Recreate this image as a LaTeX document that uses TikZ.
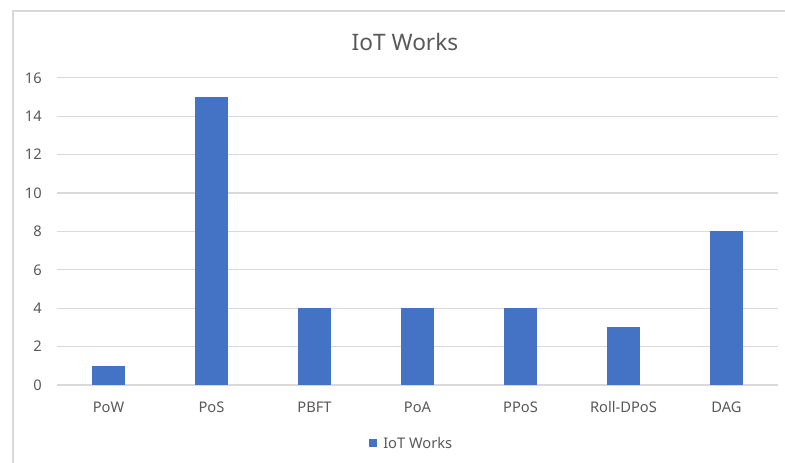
\documentclass[tikz,border=0pt]{standalone}
\usepackage{fontspec}
\setmainfont{Noto Sans}
\definecolor{bar}{HTML}{4472C4}
\definecolor{grid}{HTML}{D9D9D9}
\definecolor{txt}{HTML}{595959}
\begin{document}
\begin{tikzpicture}[x=0.75pt,y=-0.75pt,
  gridline/.style={draw=grid,line width=1pt},
  barfill/.style={fill=bar},
  ticklbl/.style={text=txt,font=\fontsize{11}{13}\selectfont,anchor=east,inner sep=0pt},
  catlbl/.style={text=txt,font=\fontsize{11}{13}\selectfont,anchor=center,inner sep=0pt},
  titlelbl/.style={text=txt,font=\fontsize{17}{20}\selectfont,anchor=center,inner sep=0pt}]
\useasboundingbox[fill=white] (0,0) rectangle (785,463);
% chart border (left and top visible)
\draw[grid,line width=1pt] (13,463) -- (13,11) -- (785,11);
% title
\node[titlelbl] (title) at (405,42) {IoT Works};
% gridlines and tick labels
\foreach \v in {0,2,...,16}{
  \draw[gridline] (57,{385-19.2*\v}) -- (778,{385-19.2*\v});
  \node[ticklbl] (t\v) at (42,{385-19.2*\v}) {\v};
}
% bars
\foreach \i/\val/\lab in {0/1/PoW,1/15/PoS,2/4/PBFT,3/4/PoA,4/4/PPoS,5/3/Roll-DPoS,6/8/DAG}{
  \pgfmathsetmacro{\cx}{57+103*(\i+0.5)}
  \fill[barfill] ({\cx-16.5},385) rectangle ({\cx+16.5},{385-19.2*\val});
  \node[catlbl] (c\i) at (\cx,407) {\lab};
}
% legend
\fill[barfill] (368.5,439) rectangle (376.5,447);
\node[text=txt,font=\fontsize{11}{13}\selectfont,anchor=west,inner sep=0pt] (leg) at (383,443) {IoT Works};
\end{tikzpicture}
\end{document}
